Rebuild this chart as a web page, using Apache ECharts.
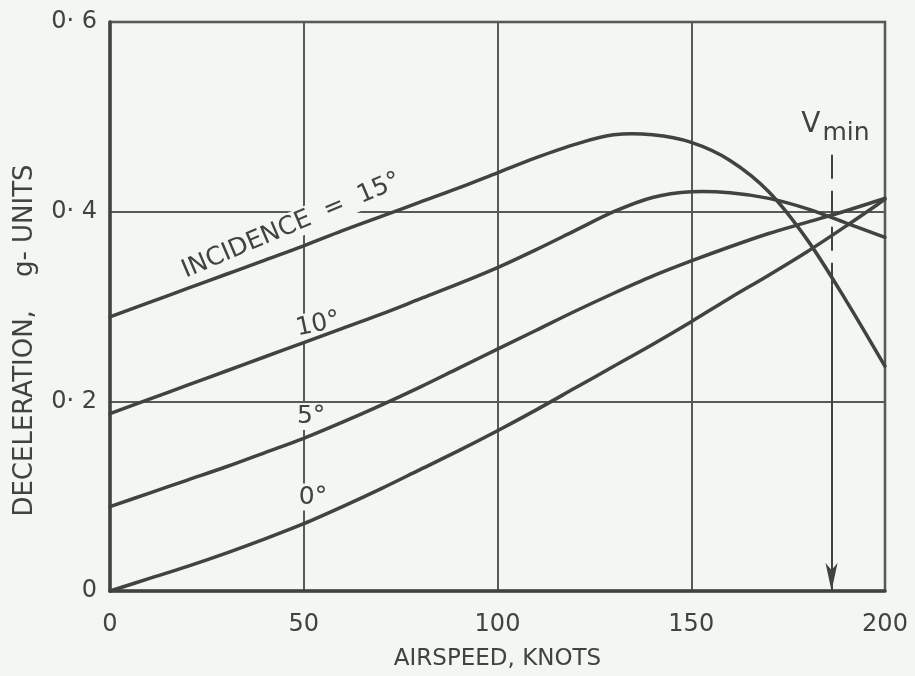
<!DOCTYPE html>
<html>
<head>
<meta charset="utf-8">
<script src="https://cdn.jsdelivr.net/npm/echarts@6/dist/echarts.min.js"></script>
<style>
  html, body { margin: 0; padding: 0; background: #f4f6f1; }
  #chart { width: 915px; height: 676px; }
</style>
</head>
<body>
<div id="chart"></div>
<script>
  // airspeed, knots
  var speeds = [0, 10, 20, 30, 40, 50, 60, 70, 80, 90, 100, 110, 120, 130, 140, 150, 160, 170, 180, 190, 200]
  // deceleration, g-units, one list per incidence
  var inc15 = [0.289, 0.304, 0.319, 0.334, 0.349, 0.364, 0.380, 0.395, 0.410, 0.425, 0.441, 0.457, 0.471, 0.481, 0.481, 0.473, 0.454, 0.421, 0.370, 0.306, 0.237]
  var inc10 = [0.187, 0.202, 0.217, 0.232, 0.247, 0.262, 0.277, 0.292, 0.308, 0.324, 0.341, 0.360, 0.380, 0.400, 0.415, 0.421, 0.420, 0.414, 0.403, 0.388, 0.373]
  var inc5 = [0.089, 0.103, 0.117, 0.131, 0.146, 0.161, 0.178, 0.196, 0.215, 0.235, 0.255, 0.275, 0.295, 0.314, 0.332, 0.348, 0.363, 0.377, 0.389, 0.401, 0.414]
  var inc0 = [0, 0.013, 0.026, 0.040, 0.055, 0.071, 0.089, 0.108, 0.128, 0.148, 0.169, 0.191, 0.214, 0.237, 0.260, 0.284, 0.309, 0.333, 0.358, 0.385, 0.413]
  var xTicks = ['0', '50', '100', '150', '200']
  var yTicks = ['0', '0· 2', '0· 4', '0· 6']
  // curve labels: text and where they sit (data coords)
  var curveNames = ['INCIDENCE  =  15°', '10°', '5°', '0°']
  var curveLabelAt = [[46.8, 0.385], [53.7, 0.281], [51.9, 0.184], [52.4, 0.099]]
  var curveLabelTilt = [23, 12, 0, 0]
  // V min marker
  var vMin = 186.2
  var vMinDashTop = 0.46
  var vMinDashEnd = 0.322

  var ink = '#404340'
  var gridInk = '#575a57'
  var bg = '#f4f6f1'
  var font = 'DejaVu Sans'

  // smooth curve through the points (catmull-rom), placed with api.coord
  function curve(ys) {
    return {
      type: 'custom', coordinateSystem: 'cartesian2d', silent: true, z: 4,
      data: [[speeds[0], ys[0]]],
      renderItem: function (params, api) {
        var p = speeds.map(function (s, i) { return api.coord([s, ys[i]]) })
        var d = 'M' + p[0][0] + ' ' + p[0][1]
        for (var i = 0; i < p.length - 1; i++) {
          var a = p[Math.max(i - 1, 0)], b = p[i], c = p[i + 1], e = p[Math.min(i + 2, p.length - 1)]
          var c1x = b[0] + (c[0] - a[0]) / 6, c1y = b[1] + (c[1] - a[1]) / 6
          var c2x = c[0] - (e[0] - b[0]) / 6, c2y = c[1] - (e[1] - b[1]) / 6
          d += ' C' + c1x + ' ' + c1y + ' ' + c2x + ' ' + c2y + ' ' + c[0] + ' ' + c[1]
        }
        return {
          type: 'path', shape: {pathData: d},
          style: {fill: null, stroke: ink, lineWidth: 3.5, lineJoin: 'round', lineCap: 'round'}
        }
      }
    }
  }

  var chart = echarts.init(document.getElementById('chart'))
  var labelData = curveNames.map(function (n, i) {
    return {
      value: curveLabelAt[i],
      label: {formatter: n, rotate: curveLabelTilt[i]}
    }
  })
  labelData.push({
    value: [vMin + 1, 0.492],
    label: {formatter: '{v|V}{s|min}', backgroundColor: 'transparent', padding: 0}
  })

  var series = [curve(inc15), curve(inc10), curve(inc5), curve(inc0)]
  series.push({
    type: 'scatter', symbolSize: 0, z: 2, data: labelData, silent: true,
    itemStyle: {opacity: 1},
    label: {
      show: true, position: 'inside', color: ink, fontFamily: font, fontSize: 25,
      backgroundColor: bg, padding: [1, 3],
      rich: {
        v: {fontSize: 28, color: ink, fontFamily: font},
        s: {fontSize: 25, color: ink, fontFamily: font, padding: [18, 0, 0, 2]}
      }
    },
    markLine: {
      silent: true,
      animation: false,
      label: {show: false},
      data: [
        [
          {coord: [vMin, vMinDashTop], symbol: 'none', lineStyle: {type: [24, 12], color: ink, width: 2}},
          {coord: [vMin, vMinDashEnd], symbol: 'none'}
        ],
        [
          {coord: [vMin, vMinDashEnd], symbol: 'none', lineStyle: {type: 'solid', color: ink, width: 2}},
          {coord: [vMin, 0], symbol: 'arrow', symbolSize: [9, 28]}
        ]
      ]
    }
  })

  chart.setOption({
    backgroundColor: bg,
    animation: false,
    grid: {left: 110, right: 30, top: 22, bottom: 82, show: true, borderColor: ink, borderWidth: 2.5},
    xAxis: {
      type: 'value', min: 0, max: 200, interval: 50,
      name: 'AIRSPEED, KNOTS', nameLocation: 'middle', nameGap: 57,
      nameTextStyle: {color: ink, fontFamily: font, fontSize: 23},
      axisLine: {show: true, lineStyle: {color: ink, width: 3.5}},
      axisTick: {show: false},
      axisLabel: {
        color: ink, fontFamily: font, fontSize: 24, margin: 22,
        formatter: function (v) { return xTicks[v / 50] }
      },
      splitLine: {show: true, lineStyle: {color: gridInk, width: 2}}
    },
    yAxis: {
      type: 'value', min: 0, max: 0.6, interval: 0.2,
      name: 'DECELERATION,    g- UNITS', nameLocation: 'middle', nameGap: 72, nameRotate: 90,
      nameTextStyle: {color: ink, fontFamily: font, fontSize: 26, padding: [0, 68, 0, 0]},
      axisLine: {show: true, lineStyle: {color: ink, width: 3.5}},
      axisTick: {show: false},
      axisLabel: {
        color: ink, fontFamily: font, fontSize: 24, margin: 13,
        formatter: function (v) { return yTicks[Math.round(v / 0.2)] }
      },
      splitLine: {show: true, lineStyle: {color: gridInk, width: 2}}
    },
    series: series
  })
</script>
</body>
</html>
